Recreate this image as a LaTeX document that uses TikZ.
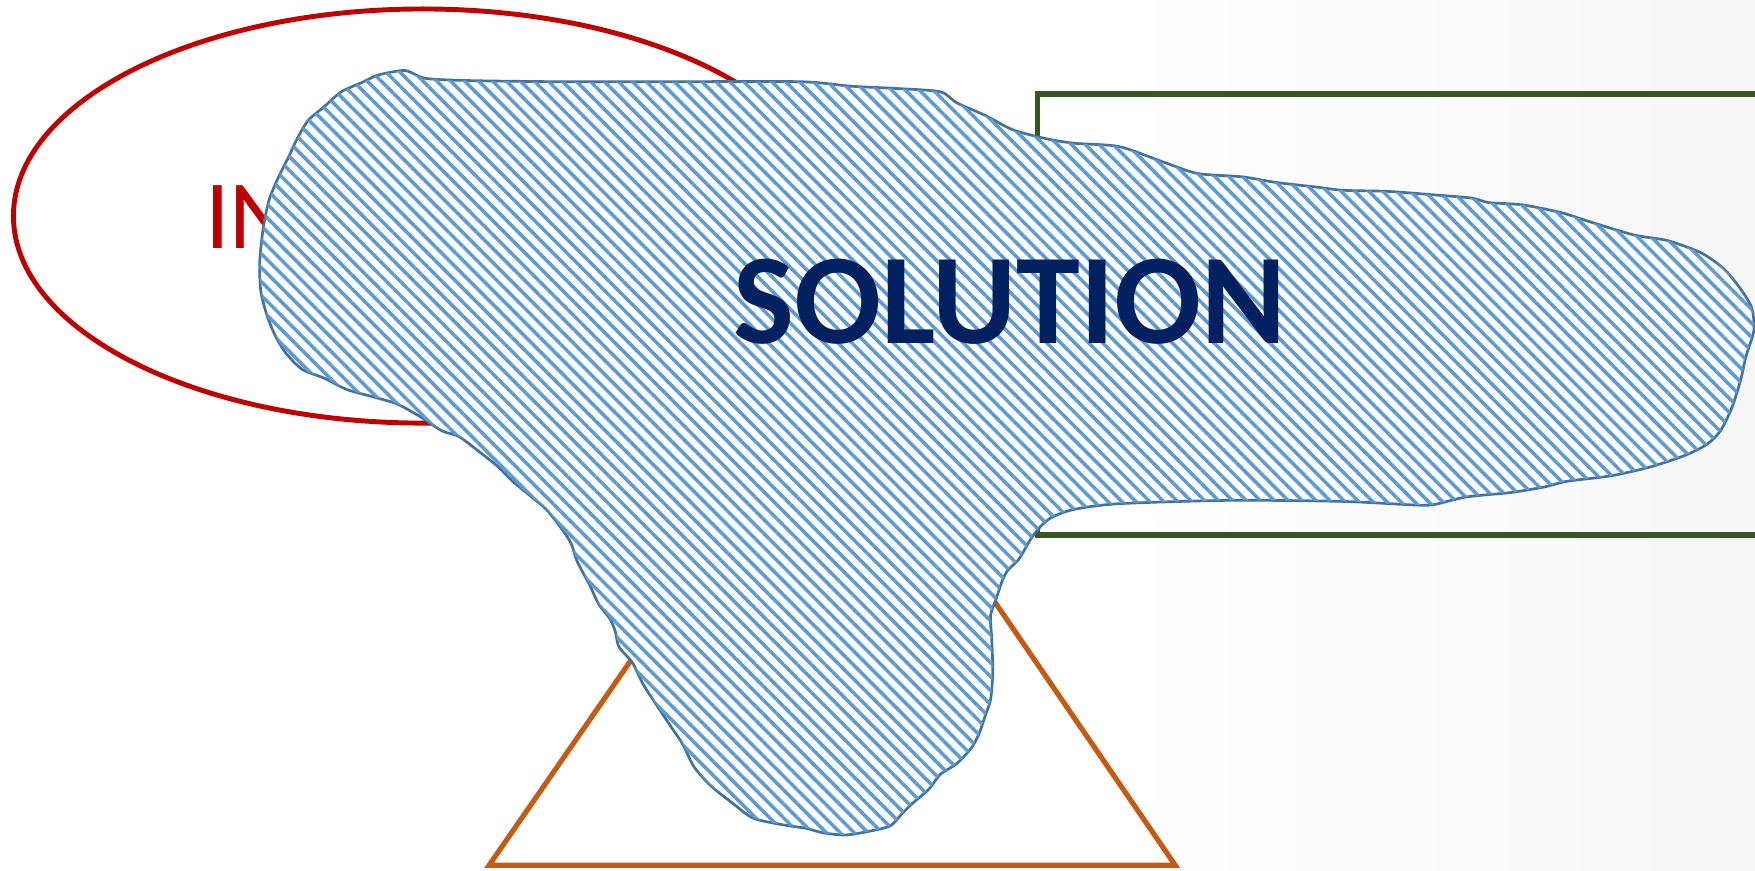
\documentclass[tikz,border=0pt]{standalone}
\usepackage{fontspec}
\newfontfamily\calibri{Carlito}[BoldFont={Carlito Bold}]
\usetikzlibrary{patterns.meta}
\definecolor{inred}{HTML}{C00000}
\definecolor{rectgreen}{HTML}{375623}
\definecolor{triorange}{HTML}{C55A11}
\definecolor{hatchblue}{HTML}{5B9BD5}
\definecolor{edgeblue}{HTML}{41719C}
\definecolor{navy}{HTML}{002060}
\definecolor{bggray}{HTML}{F6F6F6}
\begin{document}
\begin{tikzpicture}[x=0.5pt,y=-0.5pt,
  ellipseline/.style={draw=inred,line width=2.2pt},
  rectline/.style={draw=rectgreen,line width=2.6pt},
  triline/.style={draw=triorange,line width=2.3pt,line join=miter},
  blobshape/.style={draw=edgeblue,line width=1.2pt,fill=white,
     postaction={pattern={Lines[angle=-45,distance=4.4pt,line width=1.55pt]},pattern color=hatchblue}},
  solutiontext/.style={text=navy,font=\calibri\bfseries\fontsize{57.5}{60}\selectfont,inner sep=0pt,anchor=base west},
  intext/.style={text=inred,font=\calibri\fontsize{43.8}{45}\selectfont,inner sep=0pt,anchor=base west}]
\useasboundingbox (0,0) rectangle (1568,777.3);
\clip (0,0) rectangle (1568,777.3);
\fill[white] (0,0) rectangle (1568,777.3);
\shade[left color=white,right color=bggray] (1000,0) rectangle (1568,777.3);
% ellipse
\draw[ellipseline] (378,193) ellipse [x radius=366,y radius=185];
\node[intext] (intxt) at (183,222) {IN};
% rectangle
\draw[rectline] (1600,84) -- (927,84) -- (927,478) -- (1600,478);
% triangle
\draw[triline] (745,328) -- (1050,773) -- (437,773) -- cycle;
% blob
\path[blobshape] plot[smooth cycle,tension=0.45] coordinates {
(338,67) (362,63) (380,70) (420,72) (500,73) (600,73) (715,73) (760,77) (800,79) (840,82) (855,92) (880,103) (905,116) (935,124) (960,128) (1000,131) (1040,145) (1070,155) (1110,158) (1140,163) (1175,167) (1200,170) (1240,171) (1280,174) (1315,177) (1330,181) (1360,183) (1395,190) (1420,198) (1460,210) (1490,215) (1520,226) (1540,240) (1555,258) (1565,275) (1567,295) (1560,318) (1555,340) (1547,365) (1537,385) (1525,397) (1505,407) (1475,417) (1440,425) (1400,430) (1380,435) (1350,440) (1310,444) (1280,451) (1260,451) (1200,448) (1100,447) (1000,450) (960,455) (940,462) (930,470) (922,480) (916,490) (910,500) (900,510) (895,520) (890,535) (885,550) (886,570) (887,600) (885,625) (880,640) (875,655) (868,668) (855,682) (840,692) (830,705) (815,718) (805,728) (795,738) (775,743) (755,746) (735,744) (720,740) (700,737) (673,731) (655,718) (635,702) (620,685) (610,665) (600,650) (590,635) (575,612) (565,592) (553,578) (550,565) (545,553) (535,540) (527,523) (520,510) (515,500) (510,485) (500,470) (488,455) (475,444) (458,430) (445,417) (430,405) (410,390) (395,385) (375,372) (355,361) (335,355) (310,348) (290,338) (270,330) (255,315) (245,298) (238,280) (233,260) (232,235) (235,205) (240,180) (248,160) (258,140) (265,125) (275,108) (290,95) (305,82) (325,73)};
\node[solutiontext] (sol) at (655,307) {SOLUTION};
\end{tikzpicture}
\end{document}
